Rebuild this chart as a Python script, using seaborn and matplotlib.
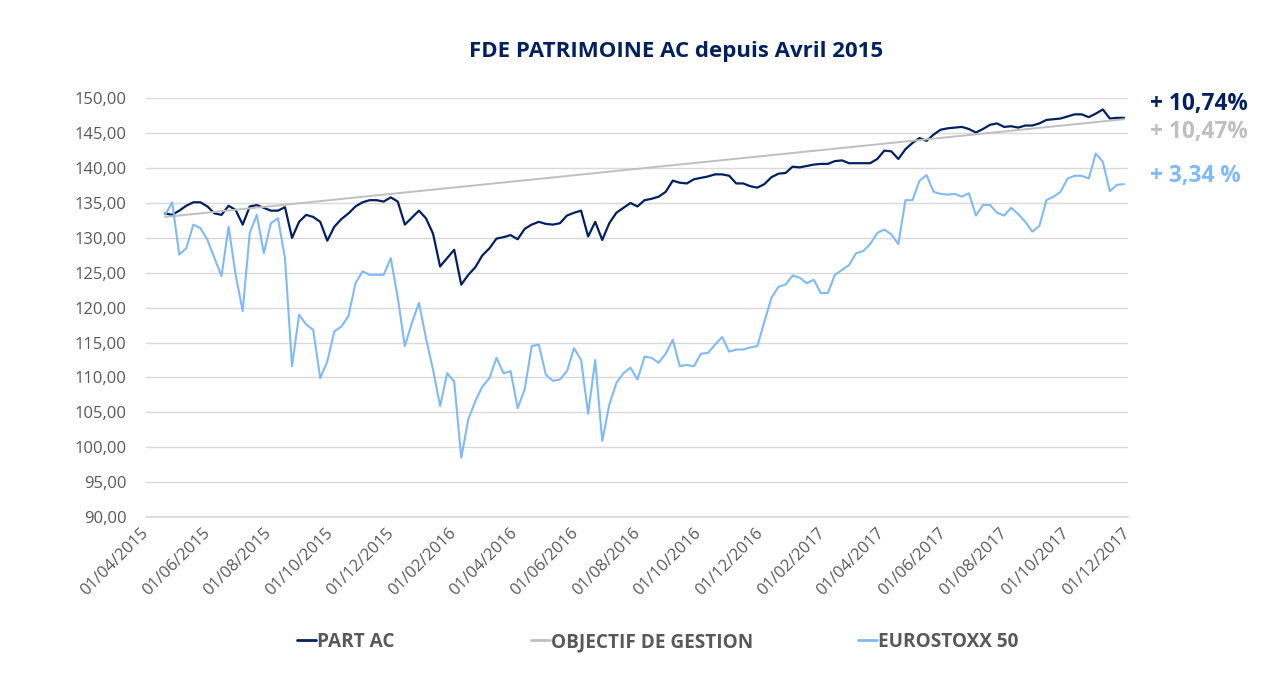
# FDE PATRIMOINE AC vs objectif de gestion vs Eurostoxx 50 (weekly readings)
import pandas as pd
import matplotlib
matplotlib.use("Agg")
import matplotlib.pyplot as plt
import matplotlib.dates as mdates
from matplotlib.lines import Line2D
from matplotlib.ticker import FuncFormatter, MultipleLocator
import seaborn as sns

start_date = "2015-04-20"

part_ac = [133.5, 133.3, 133.9, 134.6, 135.1, 135.1, 134.5, 133.5, 133.3, 134.6,
           134.0, 131.9, 134.5, 134.7, 134.3, 133.9, 133.9, 134.4, 130.0, 132.3,
           133.3, 133.0, 132.3, 129.6, 131.6, 132.7, 133.5, 134.5, 135.1, 135.4,
           135.4, 135.2, 135.8, 135.2, 131.9, 132.9, 133.9, 132.8, 130.6, 125.9,
           127.1, 128.3, 123.3, 124.7, 125.8, 127.5, 128.5, 129.9, 130.1, 130.4,
           129.8, 131.3, 131.9, 132.3, 132.0, 131.9, 132.1, 133.2, 133.6, 133.9,
           130.2, 132.3, 129.7, 132.1, 133.6, 134.3, 135.0, 134.5, 135.4, 135.6,
           135.9, 136.6, 138.2, 137.9, 137.8, 138.4, 138.6, 138.8, 139.1, 139.1,
           138.9, 137.8, 137.8, 137.4, 137.2, 137.7, 138.7, 139.2, 139.3, 140.2,
           140.1, 140.3, 140.5, 140.6, 140.6, 141.0, 141.1, 140.7, 140.7, 140.7,
           140.7, 141.3, 142.5, 142.4, 141.3, 142.7, 143.6, 144.3, 143.9, 144.8,
           145.5, 145.7, 145.8, 145.9, 145.6, 145.1, 145.6, 146.2, 146.4, 145.9,
           146.0, 145.8, 146.1, 146.1, 146.4, 146.9, 147.0, 147.1, 147.4, 147.7,
           147.7, 147.3, 147.8, 148.4, 147.1, 147.2, 147.2]

eurostoxx = [133.3, 135.1, 127.6, 128.5, 131.9, 131.4, 129.7, 127.1, 124.5, 131.6,
             124.7, 119.5, 130.7, 133.3, 127.8, 132.1, 132.8, 127.1, 111.6, 119.0,
             117.6, 116.8, 109.9, 112.3, 116.6, 117.3, 118.8, 123.5, 125.2, 124.7,
             124.7, 124.7, 127.1, 121.4, 114.5, 117.8, 120.7, 115.6, 111.1, 105.9,
             110.6, 109.4, 98.5, 104.0, 106.6, 108.7, 109.9, 112.8, 110.6, 110.9,
             105.6, 108.3, 114.5, 114.7, 110.4, 109.5, 109.7, 110.9, 114.2, 112.5,
             104.8, 112.5, 100.9, 106.1, 109.2, 110.6, 111.4, 109.7, 113.0, 112.8,
             112.1, 113.4, 115.4, 111.6, 111.8, 111.6, 113.4, 113.5, 114.7, 115.8,
             113.7, 114.0, 114.0, 114.3, 114.5, 118.0, 121.4, 123.0, 123.3, 124.6,
             124.3, 123.5, 124.0, 122.1, 122.1, 124.7, 125.4, 126.1, 127.8, 128.1,
             129.1, 130.7, 131.2, 130.5, 129.1, 135.4, 135.4, 138.2, 139.0, 136.6,
             136.3, 136.2, 136.3, 135.9, 136.4, 133.2, 134.7, 134.7, 133.6, 133.2,
             134.3, 133.4, 132.3, 130.9, 131.7, 135.4, 135.9, 136.6, 138.5, 138.9,
             138.9, 138.5, 142.1, 140.9, 136.7, 137.6, 137.7]

obj_dates = ["2015-04-20", "2017-11-27"]
obj_values = [133.0, 147.0]

labels = ["PART AC", "OBJECTIF DE GESTION", "EUROSTOXX 50"]
perf_texts = ["+ 10,74%", "+ 10,47%", "+ 3,34 %"]

navy = "#002060"
grey = "#BFBFBF"
light = "#7FBAF5"
text_grey = "#595959"

dates = pd.date_range(start_date, periods=len(part_ac), freq="7D")
df = pd.DataFrame({"date": dates, "part": part_ac, "stoxx": eurostoxx})
obj = pd.DataFrame({"date": pd.to_datetime(obj_dates), "obj": obj_values})

sns.set_theme(style="white")
plt.rcParams["font.family"] = ["Open Sans", "DejaVu Sans"]

fig = plt.figure(figsize=(12.65, 6.86), dpi=100)
ax = fig.add_axes([146 / 1265, 1 - 517 / 686, (1128 - 146) / 1265, (517 - 98.3) / 686])

sns.lineplot(data=df, x="date", y="part", ax=ax, color=navy, linewidth=1.6)
sns.lineplot(data=obj, x="date", y="obj", ax=ax, color=grey, linewidth=1.4)
sns.lineplot(data=df, x="date", y="stoxx", ax=ax, color=light, linewidth=1.5)

ax.set_xlim(pd.Timestamp("2015-04-01"), pd.Timestamp("2017-12-01"))
ax.set_ylim(90, 150)
ax.yaxis.set_major_locator(MultipleLocator(5))
ax.yaxis.set_major_formatter(FuncFormatter(lambda v, p: f"{v:.2f}".replace(".", ",")))
ax.xaxis.set_major_locator(mdates.MonthLocator(bymonth=[2, 4, 6, 8, 10, 12], bymonthday=1))
ax.xaxis.set_major_formatter(mdates.DateFormatter("%d/%m/%Y"))
ax.grid(axis="y", color="#D9D9D9", linewidth=1)
ax.grid(axis="x", visible=False)
ax.set_xlabel("")
ax.set_ylabel("")
for s in ["top", "right", "left"]:
    ax.spines[s].set_visible(False)
ax.spines["bottom"].set_color("#D9D9D9")
ax.tick_params(axis="y", length=0, pad=14, labelsize=12, labelcolor=text_grey)
ax.tick_params(axis="x", length=0, pad=10, labelsize=12, labelcolor=text_grey)
for lab in ax.get_xticklabels():
    lab.set_rotation(45)
    lab.set_ha("right")
    lab.set_va("center")
    lab.set_rotation_mode("anchor")

fig.text(676 / 1265, 1 - 51 / 686, "FDE PATRIMOINE AC depuis Avril 2015",
         ha="center", va="center", fontsize=16, fontweight="bold", color=navy)

# performance annotations on the right
for txt, col, ypx in zip(perf_texts, [navy, grey, light], [104, 132, 176]):
    fig.text(1150 / 1265, 1 - ypx / 686, txt, ha="left", va="center",
             fontsize=16.3, fontweight="bold", color=col)

# legend at the bottom, one entry per position
for lab, col, xpx in zip(labels, [navy, grey, light], [297, 531, 858]):
    h = Line2D([], [], color=col, linewidth=2)
    fig.legend(handles=[h], labels=[lab], loc="center left",
               bbox_to_anchor=(xpx / 1265, 1 - 642 / 686), frameon=False,
               handlelength=1.0, handletextpad=0.05, borderaxespad=0, borderpad=0,
               prop={"size": 13.7, "weight": "bold"}, labelcolor=text_grey)

fig.savefig("out.png", dpi=100, facecolor="white")
